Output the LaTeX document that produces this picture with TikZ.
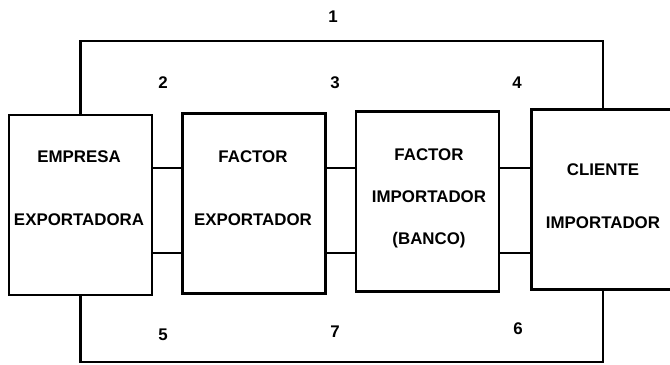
\documentclass[tikz,border=0pt]{standalone}
\usepackage{fontspec}
\setmainfont{Liberation Sans}
\usepackage{tikz}
\usetikzlibrary{positioning}
\tikzset{
  actbox/.style={rectangle,draw=black,line width=1.8pt,minimum width=3.575cm,minimum height=4.5cm,inner sep=0pt},
  acttxt/.style={align=center,font=\fontsize{12}{14}\selectfont\bfseries},
  numlbl/.style={font=\fontsize{12}{14}\selectfont\bfseries},
  linkedge/.style={line width=1.8pt,black},
}

\begin{document}
\begin{tikzpicture}[x=0.025cm,y=-0.025cm]
  \useasboundingbox (0,0) rectangle (670,364);
  \node[actbox] (nEmp) at (80.5,205) {};
  \node[actbox] (nFex) at (254,203.5) {};
  \node[actbox] (nFim) at (427.5,201.5) {};
  \node[actbox] (nCli) at (603,199.5) {};
  \node[acttxt] (tEmp) at (79,188) {EMPRESA\\[30.6pt]EXPORTADORA};
  \node[acttxt] (tFex) at (253,188) {FACTOR\\[30.6pt]EXPORTADOR};
  \node[acttxt] (tFim) at (429,198) {FACTOR\\[15.8pt]IMPORTADOR\\[15.8pt](BANCO)};
  \node[acttxt] (tCli) at (603,196.5) {CLIENTE\\[23.6pt]IMPORTADOR};
  \coordinate (cHi) at (0,168);
  \coordinate (cLo) at (0,253);
  \coordinate (cTop) at (340,41);
  \coordinate (cBot) at (340,362);
  \foreach \a/\b in {nEmp/nFex,nFex/nFim,nFim/nCli}{
    \draw[linkedge] (\a.east |- cHi) -- (\b.west |- cHi);
    \draw[linkedge] (\a.east |- cLo) -- (\b.west |- cLo);
  }
  \draw[linkedge] (nEmp.north) |- (cTop) -| (nCli.north);
  \draw[linkedge] (nEmp.south) |- (cBot) -| (nCli.south);
  \node[numlbl] (l1) at (333,17) {1};
  \node[numlbl] (l2) at (163,83) {2};
  \node[numlbl] (l3) at (335,83) {3};
  \node[numlbl] (l4) at (517,83) {4};
  \node[numlbl] (l5) at (163,335) {5};
  \node[numlbl] (l7) at (335,332) {7};
  \node[numlbl] (l6) at (518,329) {6};
\end{tikzpicture}
\end{document}
